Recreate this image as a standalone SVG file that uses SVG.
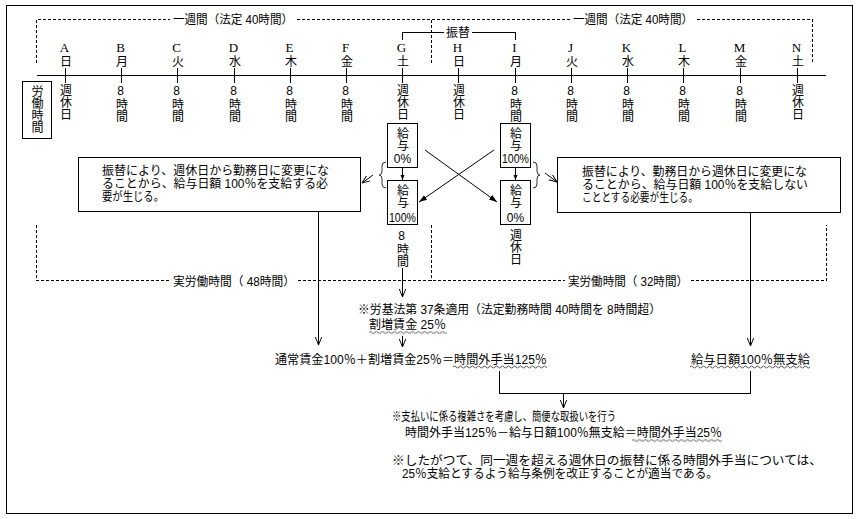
<svg xmlns="http://www.w3.org/2000/svg" width="863" height="519" viewBox="0 0 863 519">
<defs>
<style>
text { font-family: "Liberation Sans", "Noto Sans CJK JP", "Noto Sans CJK SC", sans-serif; font-size: 12px; fill: #000; }
.c { text-anchor: middle; }
.v { writing-mode: vertical-rl; text-orientation: upright; text-anchor: start; }
.lt { font-family: "Liberation Serif", serif; font-size: 13px; }
.ln { stroke: #000; stroke-width: 1; fill: none; shape-rendering: crispEdges; }
.dg { stroke: #000; stroke-width: 1; fill: none; }
.dash { stroke: #000; stroke-width: 1; stroke-dasharray: 3 2; fill: none; shape-rendering: crispEdges; }
.box { fill: #fff; stroke: #000; stroke-width: 1; shape-rendering: crispEdges; }
.brace { fill: none; stroke: #333; stroke-width: 1; }
.wv { fill: url(#wave); }
</style>
<marker id="open" viewBox="0 0 10 10" refX="10" refY="5" markerWidth="8" markerHeight="8" orient="auto" markerUnits="userSpaceOnUse"><path d="M0,1 L10,5 L0,9" fill="none" stroke="#000" stroke-width="1.2"/></marker>
<marker id="solid" viewBox="0 0 10 10" refX="10" refY="5" markerWidth="8" markerHeight="8" orient="auto" markerUnits="userSpaceOnUse"><path d="M0,1.5 L10,5 L0,8.5 z" fill="#000"/></marker>
<marker id="small" viewBox="0 0 10 10" refX="10" refY="5" markerWidth="5" markerHeight="5" orient="auto" markerUnits="userSpaceOnUse"><path d="M0,1 L10,5 L0,9 z" fill="#000"/></marker>
<pattern id="wave" width="6" height="4" patternUnits="userSpaceOnUse"><path d="M0,2 Q1.5,0 3,2 T6,2" fill="none" stroke="#555" stroke-width="1"/></pattern>
</defs>
<rect x="0" y="0" width="863" height="519" fill="#fff"/>
<rect class="box" x="6.5" y="5.5" width="846" height="508" fill="none"/>

<g id="week-brackets">
<path class="dash" d="M36.5,63 V19.5 H170 M297,19.5 H570 M697,19.5 H812.5 V63 M431.5,19.5 V63"/>
<text x="173" y="24" textLength="120" lengthAdjust="spacingAndGlyphs">一週間（法定 40時間）</text>
<text x="573" y="24" textLength="120" lengthAdjust="spacingAndGlyphs">一週間（法定 40時間）</text>
<path class="dash" d="M36.5,225 V280.5 H170 M298,280.5 H565 M691,280.5 H826.5 V225 M431.5,225 V280.5"/>
<text x="173" y="285.5" textLength="122" lengthAdjust="spacingAndGlyphs">実労働時間（ 48時間）</text>
<text x="568" y="285.5" textLength="120" lengthAdjust="spacingAndGlyphs">実労働時間（ 32時間）</text>
</g>

<g id="furikae">
<path class="ln" d="M402.5,40 V32.5 H444 M472,32.5 H515.5 V40"/>
<text class="c" x="458" y="37">振替</text>
</g>

<g id="timeline">
<line class="ln" x1="37" y1="75.5" x2="826" y2="75.5"/>
</g>

<g id="label-roudou">
<rect class="box" x="22.5" y="81.5" width="29" height="57"/>
<text class="v" x="36" y="85">労働時間</text>
</g>

<g id="day-A"><line class="ln" x1="65.5" y1="68" x2="65.5" y2="83"/><text class="v" x="64.5" y="40"><tspan class="lt">A</tspan>日</text><text class="v" x="64.5" y="84">週休日</text></g>
<g id="day-B"><line class="ln" x1="121.5" y1="68" x2="121.5" y2="83"/><text class="v" x="120.5" y="40"><tspan class="lt">B</tspan>月</text><text class="v" x="120.5" y="84">8時間</text></g>
<g id="day-C"><line class="ln" x1="177.5" y1="68" x2="177.5" y2="83"/><text class="v" x="176.5" y="40"><tspan class="lt">C</tspan>火</text><text class="v" x="176.5" y="84">8時間</text></g>
<g id="day-D"><line class="ln" x1="234.5" y1="68" x2="234.5" y2="83"/><text class="v" x="233.5" y="40"><tspan class="lt">D</tspan>水</text><text class="v" x="233.5" y="84">8時間</text></g>
<g id="day-E"><line class="ln" x1="290.5" y1="68" x2="290.5" y2="83"/><text class="v" x="289.5" y="40"><tspan class="lt">E</tspan>木</text><text class="v" x="289.5" y="84">8時間</text></g>
<g id="day-F"><line class="ln" x1="346.5" y1="68" x2="346.5" y2="83"/><text class="v" x="345.5" y="40"><tspan class="lt">F</tspan>金</text><text class="v" x="345.5" y="84">8時間</text></g>
<g id="day-G"><line class="ln" x1="402.5" y1="68" x2="402.5" y2="83"/><text class="v" x="401.5" y="40"><tspan class="lt">G</tspan>土</text><text class="v" x="401.5" y="84">週休日</text></g>
<g id="day-H"><line class="ln" x1="458.5" y1="68" x2="458.5" y2="83"/><text class="v" x="457.5" y="40"><tspan class="lt">H</tspan>日</text><text class="v" x="457.5" y="84">週休日</text></g>
<g id="day-I"><line class="ln" x1="515.5" y1="68" x2="515.5" y2="83"/><text class="v" x="514.5" y="40"><tspan class="lt">I</tspan>月</text><text class="v" x="514.5" y="84">8時間</text></g>
<g id="day-J"><line class="ln" x1="571.5" y1="68" x2="571.5" y2="83"/><text class="v" x="570.5" y="40"><tspan class="lt">J</tspan>火</text><text class="v" x="570.5" y="84">8時間</text></g>
<g id="day-K"><line class="ln" x1="627.5" y1="68" x2="627.5" y2="83"/><text class="v" x="626.5" y="40"><tspan class="lt">K</tspan>水</text><text class="v" x="626.5" y="84">8時間</text></g>
<g id="day-L"><line class="ln" x1="683.5" y1="68" x2="683.5" y2="83"/><text class="v" x="682.5" y="40"><tspan class="lt">L</tspan>木</text><text class="v" x="682.5" y="84">8時間</text></g>
<g id="day-M"><line class="ln" x1="740.5" y1="68" x2="740.5" y2="83"/><text class="v" x="739.5" y="40"><tspan class="lt">M</tspan>金</text><text class="v" x="739.5" y="84">8時間</text></g>
<g id="day-N"><line class="ln" x1="797.5" y1="68" x2="797.5" y2="83"/><text class="v" x="796.5" y="40"><tspan class="lt">N</tspan>土</text><text class="v" x="796.5" y="84">週休日</text></g>

<g id="box-G-before">
<rect class="box" x="387.5" y="123.5" width="30" height="44"/>
<text class="v" x="401.5" y="127">給与</text>
<text class="c" x="402.5" y="163">0%</text>
</g>
<g id="box-G-after">
<rect class="box" x="387.5" y="180.5" width="30" height="44"/>
<text class="v" x="401.5" y="184">給与</text>
<text class="c" x="402.5" y="221.5" textLength="27" lengthAdjust="spacingAndGlyphs">100%</text>
</g>
<g id="G-after-hours"><text class="v" x="401.5" y="229">8時間</text></g>

<g id="box-I-before">
<rect class="box" x="500.5" y="123.5" width="30" height="44"/>
<text class="v" x="514.5" y="127">給与</text>
<text class="c" x="515.5" y="163" textLength="27" lengthAdjust="spacingAndGlyphs">100%</text>
</g>
<g id="box-I-after">
<rect class="box" x="500.5" y="180.5" width="30" height="44"/>
<text class="v" x="514.5" y="184">給与</text>
<text class="c" x="515.5" y="221.5">0%</text>
</g>
<g id="I-after-rest"><text class="v" x="514.5" y="229">週休日</text></g>

<g id="braces">
<path class="brace" d="M386,162 Q382,162 382,166 V171 Q382,175 379,175 Q382,175 382,179 V184 Q382,188 386,188"/>
<path class="brace" d="M533,162 Q537,162 537,166 V171 Q537,175 540,175 Q537,175 537,179 V184 Q537,188 533,188"/>
</g>

<g id="note-left">
<rect class="box" x="78.5" y="157.5" width="282" height="54"/>
<text x="102" y="175" textLength="227" lengthAdjust="spacingAndGlyphs">振替により、週休日から勤務日に変更にな</text>
<text x="102" y="188" textLength="226" lengthAdjust="spacingAndGlyphs">ることから、給与日額 100％を支給する必</text>
<text x="102" y="201" textLength="62" lengthAdjust="spacingAndGlyphs">要が生じる。</text>
</g>
<g id="note-right">
<rect class="box" x="557.5" y="157.5" width="283" height="55"/>
<text x="582" y="176" textLength="225" lengthAdjust="spacingAndGlyphs">振替により、勤務日から週休日に変更にな</text>
<text x="582" y="189" textLength="226" lengthAdjust="spacingAndGlyphs">ることから、給与日額 100％を支給しない</text>
<text x="582" y="202" textLength="116" lengthAdjust="spacingAndGlyphs">こととする必要が生じる。</text>
</g>

<g id="rule-37">
<text x="358" y="314" textLength="303" lengthAdjust="spacingAndGlyphs">※労基法第 37条適用（法定勤務時間 40時間を 8時間超）</text>
<text x="369" y="328.5" textLength="77" lengthAdjust="spacingAndGlyphs">割増賃金 25％</text>
<rect class="wv" width="78" height="4" transform="translate(369,330.5)"/>
</g>
<g id="calc-left">
<text x="275" y="363.5" textLength="272" lengthAdjust="spacingAndGlyphs">通常賃金100％＋割増賃金25％＝時間外手当125％</text>
<rect class="wv" width="94" height="4" transform="translate(453,365)"/>
</g>
<g id="calc-right">
<text x="691" y="363.5" textLength="119" lengthAdjust="spacingAndGlyphs">給与日額100％無支給</text>
<rect class="wv" width="120" height="4" transform="translate(690,365)"/>
</g>
<g id="conclusion">
<text x="392" y="420.5" textLength="224" lengthAdjust="spacingAndGlyphs">※支払いに係る複雑さを考慮し、簡便な取扱いを行う</text>
<text x="405" y="436.5" textLength="317" lengthAdjust="spacingAndGlyphs">時間外手当125％－給与日額100％無支給＝時間外手当25％</text>
<rect class="wv" width="90" height="4" transform="translate(632,438.5)"/>
<text x="392" y="465" textLength="430" lengthAdjust="spacingAndGlyphs">※したがつて、同一週を超える週休日の振替に係る時間外手当については、</text>
<text x="402" y="478" textLength="316" lengthAdjust="spacingAndGlyphs">25％支給とするよう給与条例を改正することが適当である。</text>
</g>

<g id="connectors">
<line class="ln" x1="402.5" y1="167" x2="402.5" y2="180" marker-end="url(#small)"/>
<line class="ln" x1="515.5" y1="167" x2="515.5" y2="180" marker-end="url(#small)"/>
<line class="dg" x1="425" y1="150" x2="497" y2="202" marker-end="url(#solid)"/>
<line class="dg" x1="494" y1="150" x2="419" y2="202" marker-end="url(#solid)"/>
<line class="dg" x1="373" y1="175" x2="362" y2="183" marker-end="url(#open)"/>
<line class="dg" x1="545" y1="173" x2="557" y2="182" marker-end="url(#open)"/>
<line class="ln" x1="318.5" y1="211" x2="318.5" y2="345" marker-end="url(#open)"/>
<line class="ln" x1="750.5" y1="212" x2="750.5" y2="346" marker-end="url(#open)"/>
<line class="ln" x1="402.5" y1="268" x2="402.5" y2="297" marker-end="url(#open)"/>
<line class="ln" x1="402.5" y1="336" x2="402.5" y2="347" marker-end="url(#open)"/>
<path class="ln" d="M499.5,371 V393.5 H750.5 V371"/>
<line class="ln" x1="563.5" y1="393" x2="563.5" y2="408" marker-end="url(#open)"/>
</g>
</svg>
